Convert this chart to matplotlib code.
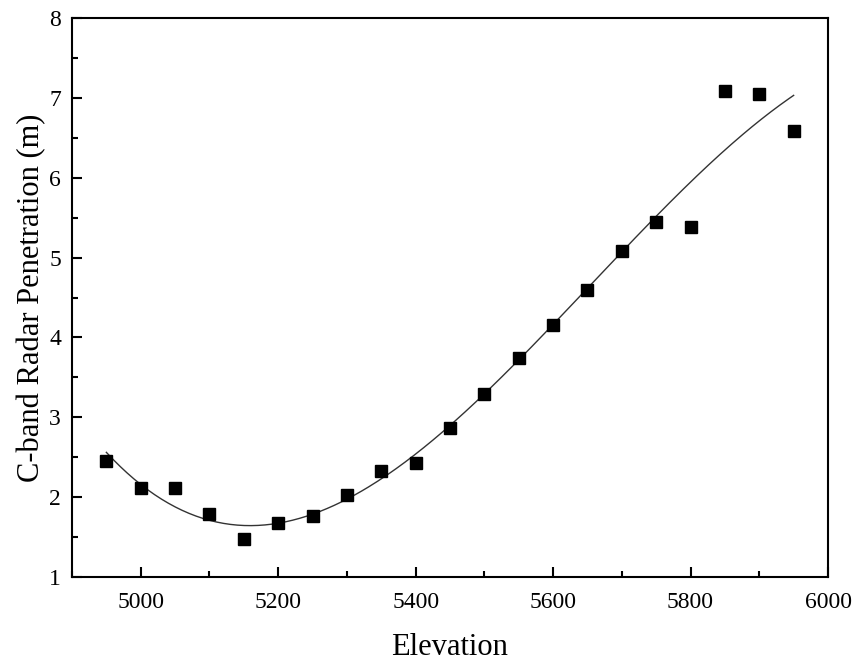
import numpy as np
import matplotlib
matplotlib.use("Agg")
import matplotlib.pyplot as plt
from matplotlib.ticker import MultipleLocator

elevation = [4950, 5000, 5050, 5100, 5150, 5200, 5250, 5300, 5350, 5400, 5450,
             5500, 5550, 5600, 5650, 5700, 5750, 5800, 5850, 5900, 5950]
penetration = [2.45, 2.12, 2.12, 1.79, 1.48, 1.67, 1.76, 2.03, 2.33, 2.43, 2.87,
               3.29, 3.74, 4.16, 4.59, 5.08, 5.45, 5.38, 7.09, 7.05, 6.59]

plt.rcParams['font.family'] = ['Liberation Serif', 'DejaVu Serif']

fig = plt.figure(figsize=(8.56, 6.62), dpi=100)
ax = fig.add_axes([0.0841, 0.1284, 0.8832, 0.8444])

# cubic polynomial fit
coef = np.polyfit(elevation, penetration, 3)
xf = np.linspace(min(elevation), max(elevation), 300)
ax.plot(xf, np.polyval(coef, xf), color='#333333', lw=1.0, zorder=2)

ax.plot(elevation, penetration, 's', color='black', ms=9, zorder=3)

ax.set_xlim(4900, 6000)
ax.set_ylim(1, 8)
ax.xaxis.set_major_locator(MultipleLocator(200))
ax.xaxis.set_minor_locator(MultipleLocator(100))
ax.yaxis.set_major_locator(MultipleLocator(1))
ax.yaxis.set_minor_locator(MultipleLocator(0.5))
ax.tick_params(which='both', direction='in', top=False, right=False, width=1.5, labelsize=17)
ax.tick_params(which='major', length=7)
ax.tick_params(which='minor', length=4)
ax.tick_params(axis='x', which='major', pad=11)
ax.tick_params(axis='y', which='major', pad=8)
for s in ax.spines.values():
    s.set_linewidth(1.5)

ax.set_xlabel('Elevation', fontsize=22, labelpad=14)
ax.set_ylabel('C-band Radar Penetration (m)', fontsize=22, labelpad=2)

fig.savefig('out.png', dpi=100)
